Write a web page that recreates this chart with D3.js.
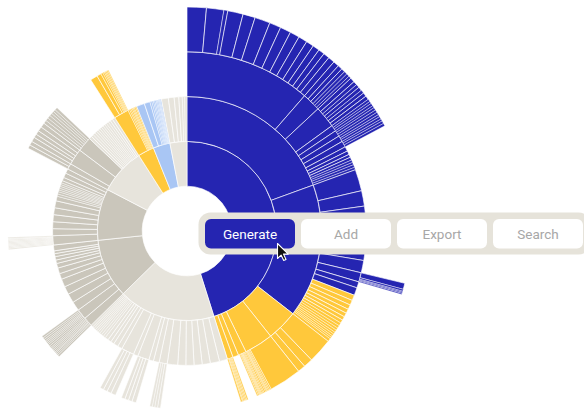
<!DOCTYPE html>
<html>
<head>
<meta charset="utf-8">
<script src="https://cdn.jsdelivr.net/npm/d3@7"></script>
<style>
  html, body { margin: 0; padding: 0; background: #fff; }
  svg { display: block; }
</style>
</head>
<body>
<svg id="chart" width="584" height="411"></svg>
<script>
// Fill colours for each kind of sector
const tones = { B: "#2525B1", Y: "#FFC83B", L: "#A9C6F4", D: "#CAC6BB", G: "#E7E4DC" };

// Rows: [id, parent, tone, span]. A span array is a run of leaf siblings.
// Spans are in degrees of the full circle (360 in total).
const ringOne = [
  ["b", "root", "B", 162.5],
  ["e", "root", "G", 63],
  ["da", "root", "D", 38.5],
  ["db", "root", "D", 33.5],
  ["f", "root", "G", 30],
  ["y", "root", "Y", 10.5],
  ["l", "root", "L", 11],
  ["g", "root", "G", 11]
];

const ringTwo = [
  ["b2a", "b", "B", 70],
  ["b2b", "b", "B", 58],
  ["by1", "b", "Y", 13.5],
  ["by2", "b", "Y", 12.5],
  ["by3", "b", "Y", 3.5],
  ["by4", "b", "Y", 2.5],
  ["by5", "b", "Y", 2.5],
  ["e2a", "e", "G", [3.5, 4, 3.5, 3.5, 3.5, 3.5, 4.5]],
  ["eRc", "e", "G", 3.5],
  ["e2b", "e", "G", [2.5, 2]],
  ["eRb", "e", "G", 5],
  ["e2c", "e", "G", [2]],
  ["eRa", "e", "G", 5.5],
  ["e2d", "e", "G", [2, 2, 1.5, 1.5, 1.5, 1, 1, 1, 0.8, 0.8, 0.8, 0.8, 0.8, 1]],
  ["daR1", "da", "D", 4],
  ["daR2", "da", "D", 4.5],
  ["da2", "da", "D", [4, 4, 3.5, 3.5, 2.5, 2.5, 2, 1.5, 1.5, 1.3, 1.2, 2.5]],
  ["dbR", "db", "D", 4],
  ["db2", "db", "D", [3, 3, 3, 3, 3, 2, 1, 1, 0.8, 0.8, 0.8, 0.8, 0.8, 1, 1.5, 2, 2]],
  ["fR1", "f", "D", 2.5],
  ["fR2", "f", "D", 7],
  ["fR3", "f", "D", 6.5],
  ["f2", "f", "G", [1.2, 1.1, 1, 1, 0.9, 0.9, 0.9, 0.9, 0.9, 0.9, 1, 1, 1.1, 1.2]],
  ["yR", "y", "Y", 6.5],
  ["y2", "y", "Y", [0.7, 0.6, 0.6, 0.5, 0.5, 0.6, 0.5]],
  ["l2", "l", "L", [3.5, 2.5, 0.8, 0.7, 0.6, 0.6, 0.5, 0.5, 0.4, 0.4, 0.5]],
  ["g2", "g", "G", [3, 2.5, 2, 1.5, 1, 1]]
];

const ringThree = [
  ["b3a", "b2a", "B", 41],
  ["b3b", "b2a", "B", 6],
  ["b3c", "b2a", "B", 7],
  ["b3d", "b2a", "B", 2],
  ["b3e", "b2a", "B", 2],
  ["b3f", "b2a", "B", 2],
  ["b3g", "b2a", "B", 2],
  ["b3h", "b2a", "B", [1.5, 1.2, 1, 1, 0.8, 0.8, 0.9, 0.8]],
  ["b3i", "b2b", "B", [7, 5, 5, 5, 4, 3.5, 4]],
  ["bR", "b2b", "B", 3],
  ["b3j", "b2b", "B", [2, 2.5]],
  ["b3y", "b2b", "Y", [1.8, 1.6, 1.5, 1.4, 1.3, 1.2, 1.1, 1, 0.9, 0.8, 0.8, 0.7, 0.7, 0.6, 0.6, 1.0]],
  ["y3a", "by1", "Y", [8, 3, 2.5]],
  ["y3b", "by2", "Y", [10.5, 0.5, 0.4, 0.4, 0.3, 0.4]],
  ["y3c", "by3", "Y", [0.5, 0.4, 0.4, 0.3, 0.3, 0.3, 0.4, 0.4]],
  ["y3gap", "by3", null, [0.5]],
  ["y3d", "by5", "Y", [0.5, 0.4, 0.4, 0.4, 0.3, 0.5]],
  ["eRc3", "eRc", "G", [1.0, 0.9, 0.8, 0.8]],
  ["eRb3", "eRb", "G", [1.4, 1.2, 1.2, 1.2]],
  ["eRa3", "eRa", "G", [1.6, 1.4, 1.3, 1.2]],
  ["daR13", "daR1", "D", [0.6, 0.5, 0.5, 0.4, 0.5, 0.5, 0.5, 0.5]],
  ["daR23", "daR2", "D", [0.6, 0.6, 0.5, 0.5, 0.5, 0.6, 0.6, 0.6]],
  ["dbR3", "dbR", "G", [0.5, 0.4, 0.4, 0.4, 0.4, 0.4, 0.4, 0.4, 0.3, 0.4]],
  ["fR13", "fR1", "D", [1.2, 1.3]],
  ["fR23", "fR2", "D", [1.5, 1.2, 1.3, 1.5, 1.5]],
  ["fR33", "fR3", "D", [1.1, 1, 1, 0.9, 0.8, 0.8, 0.9]],
  ["yR3", "yR", "Y", [2.4, 1.4, 0.7, 0.5, 0.4, 0.4, 0.4, 0.3]]
];

const ringFour = [
  ["b4a", "b3a", "B", [5, 4.5, 1, 4, 3.2, 4, 3, 2.8, 2.5, 2.3, 2, 1.8, 1.6, 1.6, 1.7]],
  ["b4b", "b3b", "B", [1.5, 1.2, 1, 0.8, 0.8, 0.7]],
  ["b4c", "b3c", "B", [1.2, 1.0, 0.9, 1.0, 0.9, 1.0, 1.0]],
  ["b4d", "b3d", "B", [0.7, 0.6, 0.7]],
  ["b4e", "b3e", "B", [0.6, 0.7, 0.7]],
  ["b4f", "b3f", "B", [0.7, 0.6, 0.7]],
  ["b4g", "b3g", "B", [0.6, 0.7, 0.7]],
  ["bR4", "bR", "B", [1.6, 0.5, 0.3, 0.3, 0.3]]
];

// Toolbar labels
const toolbarButtons = ["Generate", "Add", "Export", "Search"];

// ---- build the hierarchy ----
function expand(rows) {
  const out = [];
  rows.forEach(([id, parent, tone, span]) => {
    if (Array.isArray(span)) {
      span.forEach((v, i) => out.push({ id: id + "-" + i, parent, tone, value: v }));
    } else {
      out.push({ id, parent, tone, value: span });
    }
  });
  return out;
}

const table = [{ id: "root", parent: null, tone: null, value: 0 }]
  .concat(expand(ringOne), expand(ringTwo), expand(ringThree), expand(ringFour));
const parentIds = new Set(table.map(d => d.parent));

const root = d3.stratify().id(d => d.id).parentId(d => d.parent)(table)
  .sum(d => parentIds.has(d.id) ? 0 : d.value);
d3.partition().size([2 * Math.PI, 5])(root);

const radius = d3.scaleLinear().domain([0, 5]).range([0, 224]);
const arc = d3.arc()
  .startAngle(d => d.x0)
  .endAngle(d => d.x1)
  .innerRadius(d => radius(d.y0))
  .outerRadius(d => radius(d.y1));

const svg = d3.select("#chart");

// thinner separators on the narrow slivers
const spanDeg = d => (d.x1 - d.x0) * 180 / Math.PI;

svg.append("g")
  .attr("transform", "translate(187,231)")
  .selectAll("path")
  .data(root.descendants().filter(d => d.depth > 0 && d.data.tone))
  .join("path")
  .attr("d", arc)
  .attr("fill", d => tones[d.data.tone])
  .attr("stroke", "#fff")
  .attr("stroke-width", d => spanDeg(d) < 1 ? 0.4 : 0.65)
  .attr("stroke-linejoin", "round");

// ---- toolbar ----
const bar = svg.append("g").attr("class", "toolbar");
bar.append("rect")
  .attr("x", 198.5).attr("y", 212.5)
  .attr("width", 392).attr("height", 42)
  .attr("rx", 12)
  .attr("fill", "#E6E3DA");

const btn = bar.selectAll("g.btn")
  .data(toolbarButtons)
  .join("g")
  .attr("class", "btn")
  .attr("transform", (d, i) => `translate(${205 + i * 96},219)`);

btn.append("rect")
  .attr("width", 90).attr("height", 29.5)
  .attr("rx", 6)
  .attr("fill", (d, i) => i === 0 ? tones.B : "#FFFFFF");

btn.append("text")
  .attr("x", 45).attr("y", 15.3)
  .attr("text-anchor", "middle")
  .attr("dominant-baseline", "central")
  .attr("font-family", "Roboto, 'Liberation Sans', sans-serif")
  .attr("font-size", 13.5)
  .attr("font-weight", 400)
  .attr("fill", (d, i) => i === 0 ? "#FFFFFF" : "#A7A7A7")
  .text(d => d);

// mouse pointer over the first button
svg.append("path")
  .attr("transform", "translate(277.5,243.5)")
  .attr("d", "M0,0 L0,15 L3.6,11.6 L6.2,17 L8.5,16 L6,10.6 L10.8,10.6 Z")
  .attr("fill", "#111")
  .attr("stroke", "#fff")
  .attr("stroke-width", 1.1)
  .attr("stroke-linejoin", "round");
</script>
</body>
</html>
